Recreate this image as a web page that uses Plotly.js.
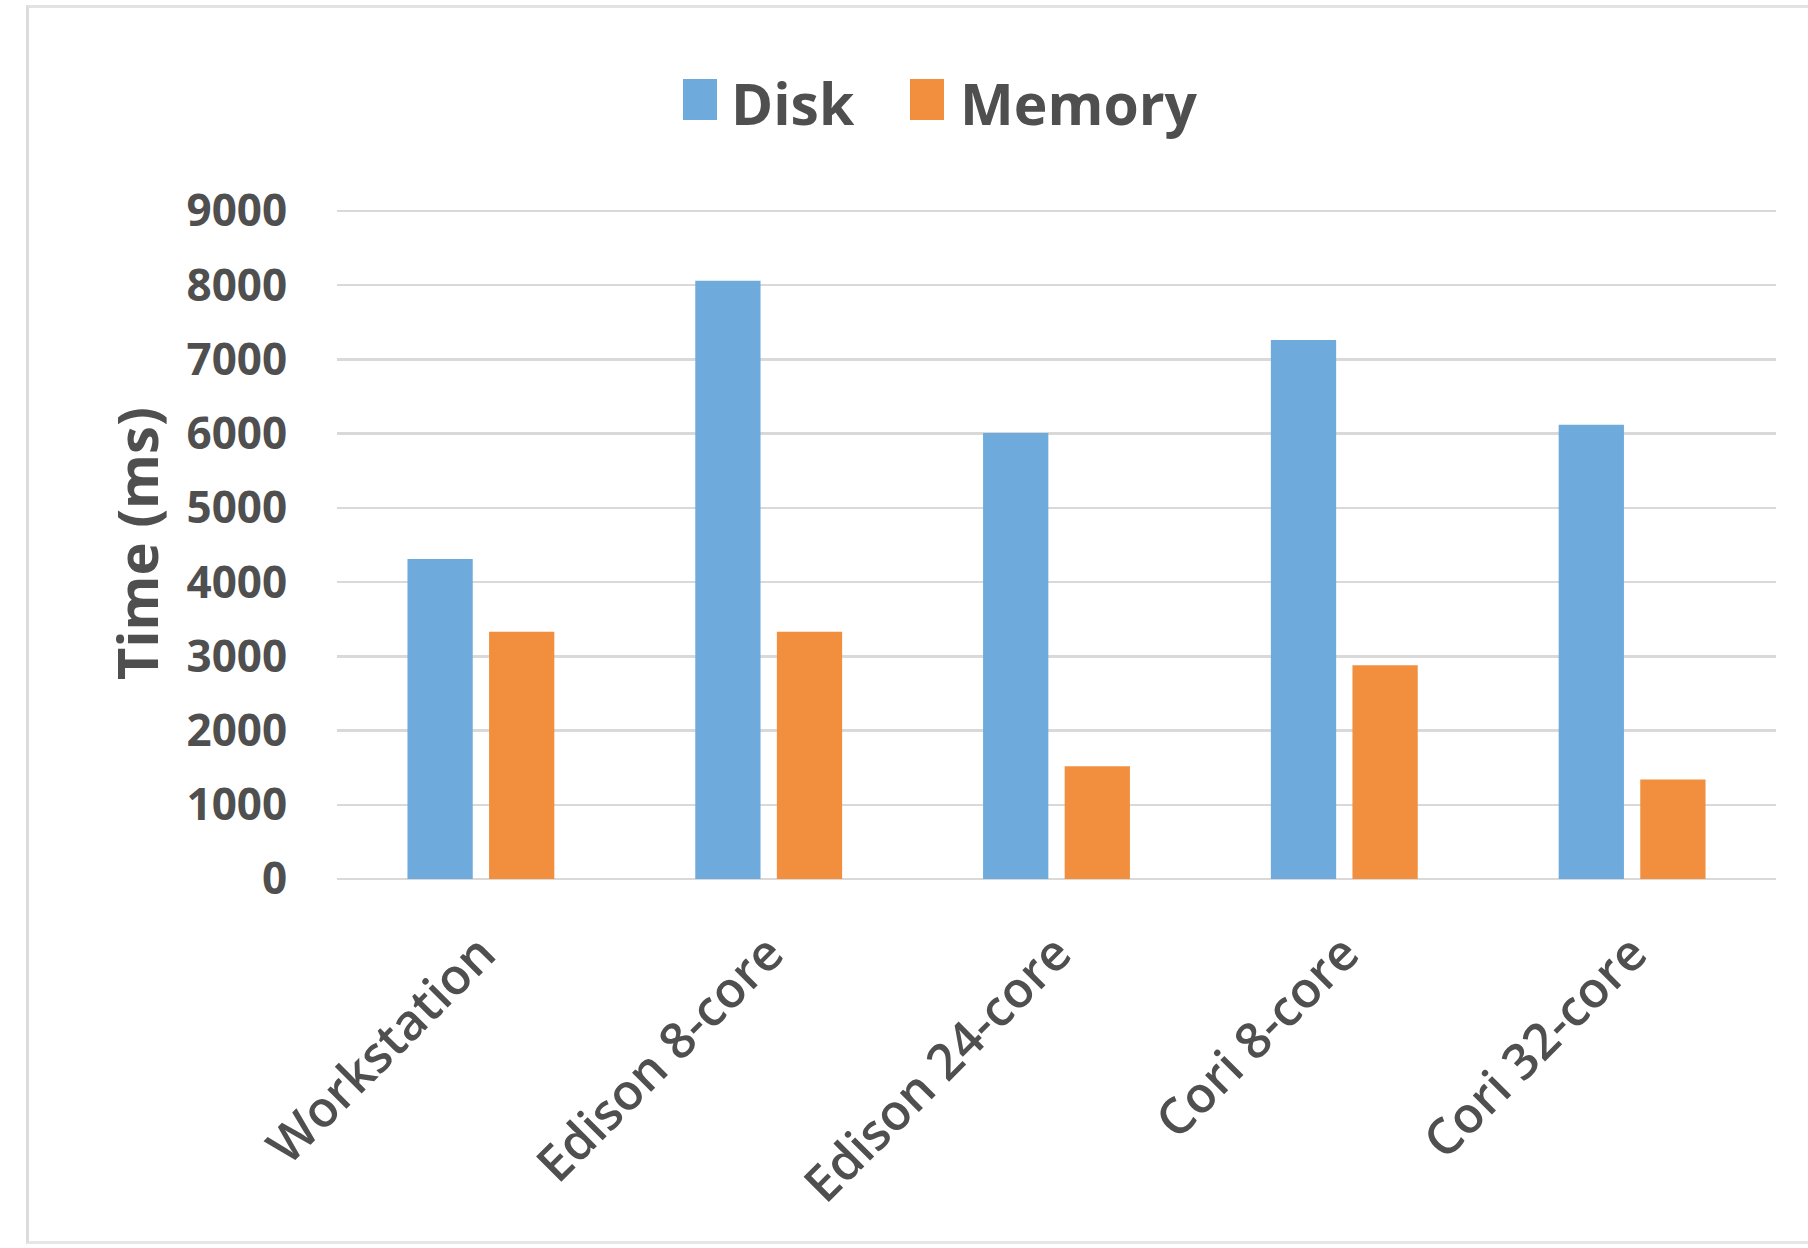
<!DOCTYPE html>
<html>
<head>
<meta charset="utf-8">
<script src="https://cdn.plot.ly/plotly-3.0.1.min.js"></script>
<style>
  html, body { margin: 0; padding: 0; background: #ffffff; }
  #frame {
    position: absolute; left: 26px; top: 5px; width: 1800px; height: 1239px;
    border-left: 3px solid #dcdcdc; border-top: 3px solid #e2e2e2; border-bottom: 3px solid #e6e6e6;
    box-sizing: border-box;
  }
  #chart { position: absolute; left: 0; top: 0; width: 1808px; height: 1248px; }
</style>
</head>
<body>
<div id="frame"></div>
<div id="chart"></div>
<script>
// ---- data ----
const categories = ["Workstation", "Edison 8-core", "Edison 24-core", "Cori 8-core", "Cori 32-core"];
const seriesNames = ["Disk", "Memory"];
const diskValues = [4310, 8060, 6010, 7260, 6120];
const memoryValues = [3330, 3330, 1520, 2880, 1340];
const yTickValues = [0, 1000, 2000, 3000, 4000, 5000, 6000, 7000, 8000, 9000];
const yTitle = "Time (ms)";

// ---- styling ----
const colors = ["#6eaadb", "#f18f3e"];
const textColor = "#4f4f4f";
const W = 1808, H = 1248;
const M = { l: 337, r: 32, t: 208, b: 369 };
const PW = W - M.l - M.r, PH = H - M.t - M.b;
const px2x = p => (p - M.l) / PW;
const py2y = p => (H - M.b - p) / PH;

const traces = [
  { type: "bar", name: seriesNames[0], x: categories, y: diskValues,
    marker: { color: colors[0] }, hoverinfo: "x+y+name" },
  { type: "bar", name: seriesNames[1], x: categories, y: memoryValues,
    marker: { color: colors[1] }, hoverinfo: "x+y+name" }
];

// custom legend (large swatches like the reference)
const legendSwatch = [[683, 717], [910, 944]];
const legendTextX = [729, 958];
const shapes = [], annotations = [];
seriesNames.forEach((n, i) => {
  shapes.push({ type: "rect", xref: "paper", yref: "paper",
    x0: px2x(legendSwatch[i][0]), x1: px2x(legendSwatch[i][1]),
    y0: py2y(120), y1: py2y(79), fillcolor: colors[i], line: { width: 0 } });
  annotations.push({ xref: "paper", yref: "paper", x: px2x(legendTextX[i]), y: py2y(103),
    xanchor: "left", yanchor: "middle", showarrow: false, text: n,
    font: { family: "Open Sans", size: 57, color: textColor, weight: 700 } });
});
annotations.push({ xref: "paper", yref: "paper", x: px2x(136), y: py2y(544),
  xanchor: "center", yanchor: "middle", showarrow: false, text: yTitle, textangle: -90,
  font: { family: "Open Sans", size: 56, color: textColor, weight: 700 } });

const layout = {
  width: W, height: H,
  margin: M,
  paper_bgcolor: "rgba(0,0,0,0)",
  plot_bgcolor: "rgba(0,0,0,0)",
  showlegend: false,
  barmode: "group",
  bargap: 0.433,
  bargroupgap: 0.2,
  xaxis: {
    type: "category",
    showgrid: false, showline: false, zeroline: false,
    tickangle: -45,
    ticks: "outside", ticklen: 24, tickcolor: "rgba(0,0,0,0)",
    tickfont: { family: "Open Sans", size: 50, color: textColor, weight: 600 }
  },
  yaxis: {
    range: [0, 9040],
    tickvals: yTickValues,
    ticktext: yTickValues.map(String),
    showgrid: true, gridcolor: "#d9d9d9", gridwidth: 2.5,
    zeroline: true, zerolinecolor: "#d9d9d9", zerolinewidth: 2.5,
    showline: false,
    ticks: "outside", ticklen: 40, tickcolor: "rgba(0,0,0,0)",
    tickfont: { family: "Open Sans", size: 44, color: textColor, weight: 700 }
  },
  shapes: shapes,
  annotations: annotations
};

Plotly.newPlot("chart", traces, layout, { displayModeBar: false, staticPlot: true });
</script>
</body>
</html>
